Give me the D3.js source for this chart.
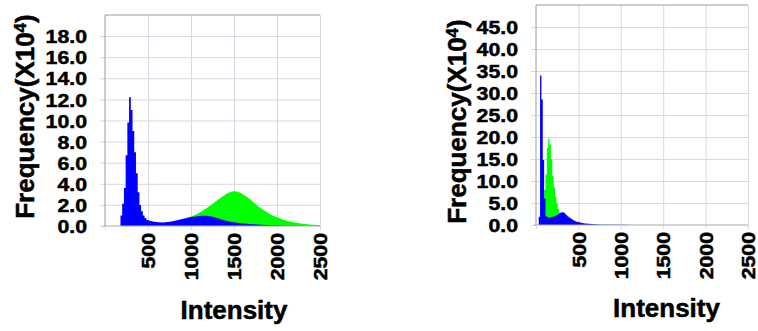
<!DOCTYPE html>
<html>
<head>
<meta charset="utf-8">
<script src="https://cdn.jsdelivr.net/npm/d3@7"></script>
<style>
	body { margin: 0; background: #fff; }
	svg { display: block; }
	text { font-family: "Liberation Sans", Arial, sans-serif; font-weight: bold; fill: #000; stroke: #000; stroke-width: 0.5px; }
</style>
</head>
<body>
<svg width="758" height="331"></svg>
<script>
(function() {
	"use strict"

	// left histogram: bin start intensities and counts (x10^4)
	var leftIntensity = [180, 200, 220, 240, 260, 280, 300, 320, 340, 360, 380, 400, 420, 440, 460, 480,
		500, 550, 600, 650, 700, 750, 800, 850, 900, 950, 1000, 1050, 1100, 1150, 1200, 1250, 1300, 1350,
		1400, 1450, 1500, 1550, 1600, 1650, 1700, 1750, 1800, 1850, 1900, 1950, 2000, 2050, 2100, 2150,
		2200, 2250, 2300, 2350, 2400, 2450],
		leftBlue = [1.0, 2.1, 3.6, 6.7, 9.8, 12.2, 11.0, 9.0, 7.0, 5.0, 3.2, 2.0, 1.4, 1.0, 0.75, 0.58,
		0.48, 0.4, 0.35, 0.34, 0.37, 0.43, 0.52, 0.62, 0.72, 0.8, 0.87, 0.92, 0.96, 0.97, 0.92, 0.82, 0.7, 0.58,
		0.47, 0.39, 0.32, 0.27, 0.23, 0.2, 0.17, 0.14, 0.12, 0.1, 0.08, 0.06, 0.05, 0.04, 0.03, 0.03,
		0.02, 0.02, 0.01, 0.01, 0.01, 0.01],
		leftGreen = [0, 0, 0, 0, 0, 0, 0, 0, 0, 0, 0, 0, 0, 0, 0, 0,
		0, 0, 0, 0, 0.15, 0.25, 0.35, 0.5, 0.65, 0.82, 0.98, 1.15, 1.4, 1.65, 1.95, 2.25, 2.55, 2.85,
		3.1, 3.28, 3.3, 3.15, 2.9, 2.6, 2.25, 1.9, 1.6, 1.35, 1.1, 0.9, 0.75, 0.6, 0.48, 0.38,
		0.3, 0.24, 0.19, 0.15, 0.12, 0.1],
		leftEnd = 2500,
		leftYTicks = [0, 2, 4, 6, 8, 10, 12, 14, 16, 18],
		leftYMax = 20;

	// right histogram
	var rightIntensity = [32, 48, 64, 80, 96, 112, 128, 144, 160, 176, 192, 208, 224, 240, 256, 272, 288,
		304, 320, 336, 352, 368, 384, 400, 432, 464, 496, 528, 560, 600, 650, 700, 750, 800, 900, 1000,
		1100, 1200, 1300, 1400],
		rightBlue = [1.9, 34.0, 28.5, 14.8, 6.0, 2.0, 1.8, 1.7, 1.7, 1.8, 1.9, 2.0, 2.1, 2.3, 2.45, 2.65, 2.85,
		2.9, 2.85, 2.6, 2.3, 2.0, 1.7, 1.4, 1.0, 0.75, 0.6, 0.45, 0.35, 0.26, 0.18, 0.12, 0.08, 0.06, 0.04, 0.03,
		0.02, 0.01, 0.01, 0.005],
		rightGreen = [0, 0, 0, 0, 8.0, 11.5, 17.5, 19.6, 18.3, 15.0, 11.2, 8.5, 6.4, 4.9, 3.7, 2.6, 2.2,
		1.9, 1.7, 1.5, 1.3, 1.1, 0.95, 0.8, 0.6, 0.45, 0.35, 0.28, 0.2, 0.15, 0.1, 0.07, 0.05, 0.03, 0.02, 0.01,
		0.005, 0, 0, 0],
		rightEnd = 1500,
		rightYTicks = [0, 5, 10, 15, 20, 25, 30, 35, 40, 45],
		rightYMax = 50;

	var xTicks = [500, 1000, 1500, 2000, 2500],
		xMax = 2500,
		blueColor = "#0000ff",
		greenColor = "#00ff00",
		gridColor = "#d6d9e3",
		frameColor = "#9c9c9c",
		labelStretch = 1.15,
		stepWidth = 30;

	var svg = d3.select("svg");

	// narrow bins keep their flat tops, wide bins become one point at their centre
	function toOutline(starts, values, end) {
		var pts = [];
		starts.forEach(function(s, i) {
			var next = i + 1 < starts.length ? starts[i + 1] : end;
			if (next - s < stepWidth) {
				pts.push({ x: s, y: values[i] });
				pts.push({ x: next, y: values[i] });
			} else {
				if (i === 0) pts.push({ x: s, y: values[i] });
				pts.push({ x: (s + next) / 2, y: values[i] });
				if (i === starts.length - 1) pts.push({ x: next, y: values[i] });
			}
		});
		return pts;
	}

	function drawPanel(p) {
		var x = d3.scaleLinear().domain([0, xMax]).range([p.left, p.right]),
			y = d3.scaleLinear().domain([0, p.yMax]).range([p.bottom, p.top]),
			g = svg.append("g");

		// grid
		g.append("g")
			.attr("transform", "translate(" + p.left + ",0)")
			.call(d3.axisLeft(y).tickValues(p.yTicks.slice(1)).tickSize(-(p.right - p.left)).tickFormat(""))
			.call(function(a) {
				a.select(".domain").remove();
				a.selectAll("line").attr("stroke", gridColor);
			});
		g.append("g")
			.attr("transform", "translate(0," + p.bottom + ")")
			.call(d3.axisBottom(x).tickValues(xTicks).tickSize(-(p.bottom - p.top)).tickFormat(""))
			.call(function(a) {
				a.select(".domain").remove();
				a.selectAll("line").attr("stroke", gridColor);
			});

		var area = d3.area()
			.x(function(d) { return x(d.x); })
			.y0(y(0))
			.y1(function(d) { return y(d.y); });

		g.append("path")
			.datum(toOutline(p.bins, p.green, p.end))
			.attr("fill", greenColor)
			.attr("d", area);
		g.append("path")
			.datum(toOutline(p.bins, p.blue, p.end))
			.attr("fill", blueColor)
			.attr("d", area);

		// y axis labels + outer ticks
		g.append("g")
			.attr("transform", "translate(" + p.left + ",0)")
			.call(d3.axisLeft(y).tickValues(p.yTicks).tickSize(5).tickSizeOuter(0).tickFormat(d3.format(".1f")))
			.call(function(a) {
				a.attr("font-family", null).attr("font-size", null);
				a.select(".domain").remove();
				a.selectAll("line").attr("stroke", gridColor);
				a.selectAll("text")
					.attr("x", 0)
					.attr("dy", "0.36em")
					.attr("transform", "translate(-18,0) scale(" + labelStretch + ",1)")
					.style("font-size", "18.5px");
			});

		// x axis labels + outer ticks
		g.append("g")
			.attr("transform", "translate(0," + p.bottom + ")")
			.call(d3.axisBottom(x).tickValues([0].concat(xTicks)).tickSize(4).tickSizeOuter(0).tickFormat(function(d) {
				return d === 0 ? "" : d;
			}))
			.call(function(a) {
				a.attr("font-family", null).attr("font-size", null);
				a.select(".domain").attr("stroke", "#aaa").attr("d", "M" + (p.left - 2) + ",0H" + p.right);
				a.selectAll("line").attr("stroke", gridColor);
				a.selectAll("text")
					.attr("x", -7 / labelStretch)
					.attr("y", 0)
					.attr("dy", "0.36em")
					.attr("transform", "rotate(-90) scale(" + labelStretch + ",1)")
					.style("text-anchor", "end")
					.style("font-size", "18.5px");
			});

		// frame: top and left
		g.append("path")
			.attr("d", "M" + p.left + "," + p.bottom + "V" + p.top + "H" + p.right)
			.attr("fill", "none")
			.attr("stroke", frameColor);

		// titles
		var yt = g.append("text")
			.attr("transform", "translate(" + p.yTitleX + "," + p.yTitleY + ") rotate(-90)")
			.attr("text-anchor", "middle")
			.style("font-size", "26px");
		yt.append("tspan").text("Frequency(X10");
		yt.append("tspan").attr("dy", -8).style("font-size", "17px").text("4");
		yt.append("tspan").attr("dy", 8).text(")");

		g.append("text")
			.attr("x", p.xTitleX)
			.attr("y", p.xTitleY)
			.attr("text-anchor", "middle")
			.style("font-size", "26px")
			.text("Intensity");
	}

	drawPanel({
		left: 105, right: 320, top: 15, bottom: 226,
		yMax: leftYMax, yTicks: leftYTicks,
		bins: leftIntensity, blue: leftBlue, green: leftGreen, end: leftEnd,
		yTitleX: 33.5, yTitleY: 116.5, xTitleX: 234, xTitleY: 319
	});
	drawPanel({
		left: 536, right: 748, top: 5, bottom: 225,
		yMax: rightYMax, yTicks: rightYTicks,
		bins: rightIntensity, blue: rightBlue, green: rightGreen, end: rightEnd,
		yTitleX: 465.5, yTitleY: 121.5, xTitleX: 666.5, xTitleY: 316.5
	});
})();
</script>
</body>
</html>
